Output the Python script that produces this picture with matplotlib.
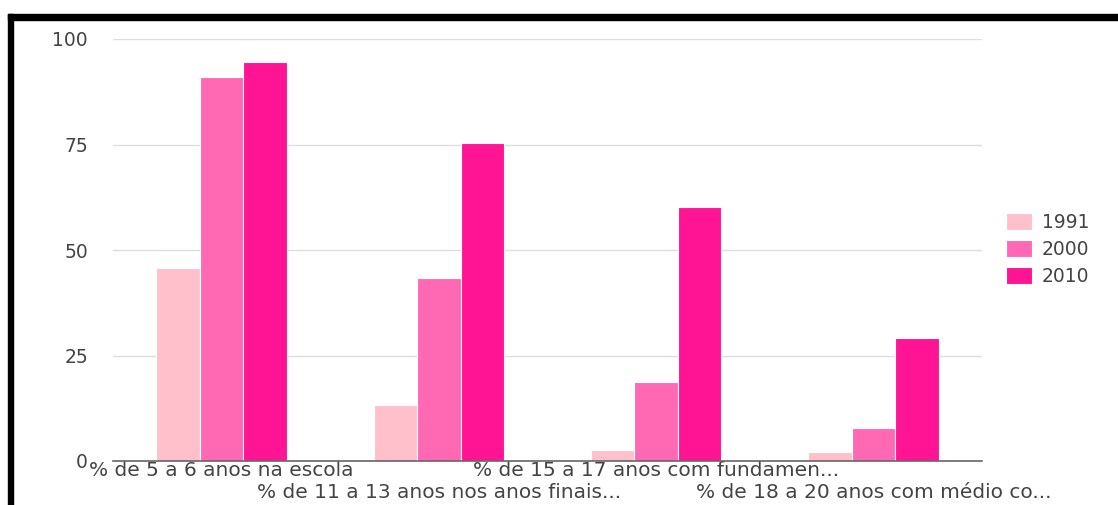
import matplotlib.pyplot as plt
from matplotlib.patches import Rectangle
import numpy as np

plt.rcParams["font.family"] = ["DejaVu Sans"]

categories = [
    "% de 5 a 6 anos na escola",
    "% de 11 a 13 anos nos anos finais...",
    "% de 15 a 17 anos com fundamen...",
    "% de 18 a 20 anos com médio co...",
]
years = ["1991", "2000", "2010"]
v1991 = [45.7, 13.3, 2.6, 2.1]
v2000 = [91.0, 43.4, 18.7, 7.8]
v2010 = [94.5, 75.4, 60.2, 29.1]
colors = ["#FFC0CB", "#FF69B4", "#FF1493"]
yticks = [0, 25, 50, 75, 100]

fig = plt.figure(figsize=(11.18, 5.05), dpi=100)
ax = fig.add_axes([113 / 1118, 1 - 461 / 505, 869 / 1118, 422 / 505])

x = np.arange(len(categories))
w = 0.2
for i, (vals, yr, c) in enumerate(zip([v1991, v2000, v2010], years, colors)):
    ax.bar(x + (i - 1) * w, vals, width=w, color=c, label=yr,
           edgecolor="white", linewidth=0.8, zorder=3)

ax.set_xlim(-0.5, len(categories) - 0.5)
ax.set_ylim(0, 100)
ax.set_yticks(yticks)
ax.set_yticklabels([str(t) for t in yticks], color="#444444", fontsize=13.5)
ax.tick_params(axis="y", length=0, pad=18)
ax.grid(axis="y", color="#dddddd", linewidth=1, zorder=0)
for s in ["top", "right", "left"]:
    ax.spines[s].set_visible(False)
ax.spines["bottom"].set_color("#666666")
ax.spines["bottom"].set_linewidth(1.2)
ax.spines["bottom"].set_zorder(4)

ax.set_xticks(x)
ax.set_xticklabels(categories, color="#444444", fontsize=14.5)
ax.tick_params(axis="x", length=0)
for i, tick in enumerate(ax.xaxis.get_major_ticks()):
    tick.set_pad(0 if i % 2 == 0 else 15.5)

leg = fig.legend(loc="upper left", bbox_to_anchor=(989 / 1118, 1 - 196 / 505),
                 frameon=False, fontsize=13.5, handlelength=1.4, handleheight=1.0,
                 handletextpad=0.5, labelspacing=0.42, labelcolor="#444444")

# black frame on top and left edges
fig.patches.append(Rectangle((8 / 1118, 0), 5 / 1118, 1 - 14 / 505,
                             transform=fig.transFigure, color="black"))
fig.patches.append(Rectangle((8 / 1118, 1 - 20 / 505), 1, 6 / 505,
                             transform=fig.transFigure, color="black"))

fig.savefig("out.png", dpi=100)
